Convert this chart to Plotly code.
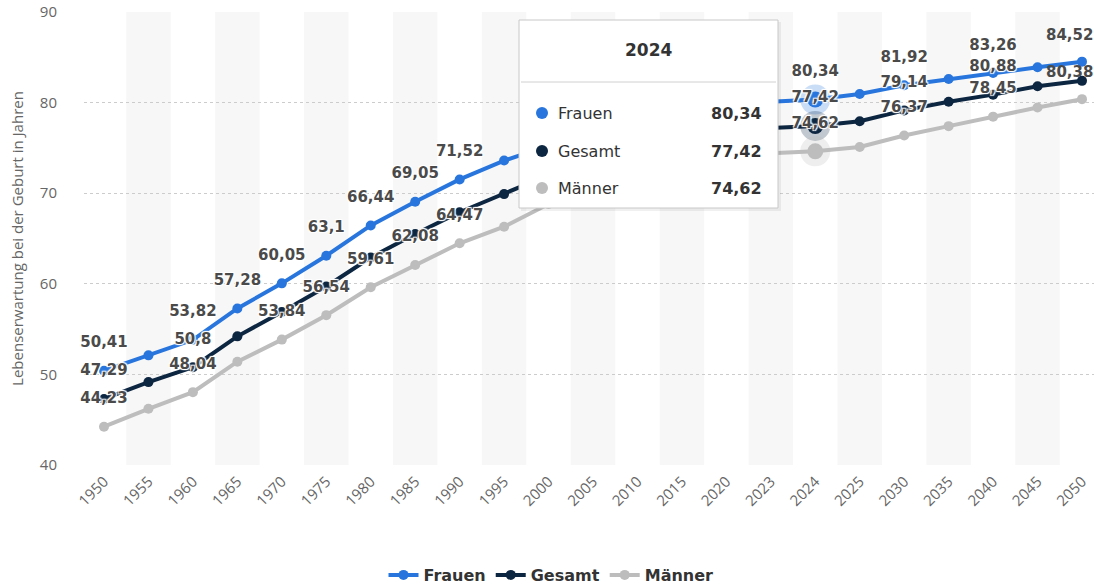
import plotly.graph_objects as go

years = ["1950", "1955", "1960", "1965", "1970", "1975", "1980", "1985", "1990", "1995",
         "2000", "2005", "2010", "2015", "2020", "2023", "2024", "2025", "2030", "2035",
         "2040", "2045", "2050"]

frauen = [50.41, 52.1, 53.82, 57.28, 60.05, 63.1, 66.44, 69.05, 71.52, 73.6,
          75.3, 76.9, 78.0, 79.0, 78.8, 80.1, 80.34, 80.95, 81.92, 82.6,
          83.26, 83.9, 84.52]
gesamt = [47.29, 49.15, 50.8, 54.2, 56.9, 59.7, 62.9, 65.5, 67.9, 69.9,
          72.0, 73.6, 74.9, 76.0, 75.7, 77.2, 77.42, 77.95, 79.14, 80.1,
          80.88, 81.8, 82.4]
maenner = [44.23, 46.2, 48.04, 51.4, 53.84, 56.54, 59.61, 62.08, 64.47, 66.3,
           68.8, 70.3, 71.8, 73.0, 72.6, 74.4, 74.62, 75.1, 76.37, 77.4,
           78.45, 79.45, 80.38]

# indices of points that show a data label
frauen_lbl = [0, 2, 3, 4, 5, 6, 7, 8, 16, 18, 20, 22]
gesamt_lbl = [0, 2, 16, 18, 20]
maenner_lbl = [0, 2, 4, 5, 6, 7, 8, 16, 18, 20, 22]

series = [
    ("Frauen", frauen, frauen_lbl, "#2876dd"),
    ("Gesamt", gesamt, gesamt_lbl, "#0c2540"),
    ("Männer", maenner, maenner_lbl, "#bdbdbd"),
]

hover_year = "2024"
hi = years.index(hover_year)
last = len(years) - 1

def fmt(v):
    return str(v).replace(".", ",")

fig = go.Figure()

for name, vals, lbl, col in series:
    fig.add_trace(go.Scatter(
        x=years, y=vals, name=name, mode="lines+markers",
        line=dict(color=col, width=4),
        marker=dict(size=10, color=col),
        hoverinfo="skip"))

# hover state halos and enlarged markers
for name, vals, lbl, col in series:
    fig.add_trace(go.Scatter(
        x=[years[hi]], y=[vals[hi]], mode="markers",
        marker=dict(size=30, color=col, opacity=0.25),
        showlegend=False, hoverinfo="skip"))
for name, vals, lbl, col in series:
    fig.add_trace(go.Scatter(
        x=[years[hi]], y=[vals[hi]], mode="markers",
        marker=dict(size=16, color=col),
        showlegend=False, hoverinfo="skip"))

shadow = "1px 1px 1px #fff, -1px -1px 1px #fff, 1px -1px 1px #fff, -1px 1px 1px #fff"
annotations = []
for name, vals, lbl, col in series:
    inner = [i for i in lbl if i != last]
    fig.add_trace(go.Scatter(
        x=[years[i] for i in inner], y=[vals[i] for i in inner],
        text=[fmt(vals[i]) for i in inner],
        mode="markers+text", textposition="top center",
        marker=dict(size=30, opacity=0),
        textfont=dict(family="DejaVu Sans", size=15, color="#4a4a4a",
                      weight="bold", shadow=shadow),
        showlegend=False, hoverinfo="skip", cliponaxis=False))
    if last in lbl:
        # edge label pushed inward like the original (x given as category index)
        annotations.append(dict(xref="x", yref="y", x=last, y=vals[last],
                                text="<b>" + fmt(vals[last]) + "</b>", showarrow=False,
                                xanchor="center", yanchor="middle", xshift=-13, yshift=27,
                                font=dict(family="DejaVu Sans", size=15, color="#4a4a4a")))

shapes = []
for i in range(1, len(years), 2):
    shapes.append(dict(type="rect", xref="x", yref="paper", x0=i - 0.5, x1=i + 0.5,
                       y0=0, y1=1, fillcolor="#f7f7f7", line=dict(width=0), layer="below"))

# tooltip box (pixel -> paper)
L, T, W, H = 84, 12, 1010, 453
def px(x):
    return (x - L) / W
def py(y):
    return (T + H - y) / H

shapes.append(dict(type="rect", xref="paper", yref="paper",
                   x0=px(521), x1=px(781), y0=py(211), y1=py(22),
                   fillcolor="rgba(0,0,0,0.06)", line=dict(width=0), layer="above"))
shapes.append(dict(type="rect", xref="paper", yref="paper",
                   x0=px(519), x1=px(778), y0=py(208), y1=py(20),
                   fillcolor="white", line=dict(color="#c8c8c8", width=1), layer="above"))
shapes.append(dict(type="line", xref="paper", yref="paper",
                   x0=px(521), x1=px(776), y0=py(82), y1=py(82),
                   line=dict(color="#d0d0d0", width=1), layer="above"))

annotations.append(dict(xref="paper", yref="paper", x=px(648), y=py(50),
                        text="<b>" + hover_year + "</b>",
                        showarrow=False, font=dict(family="DejaVu Sans", size=17, color="#333333"),
                        xanchor="center", yanchor="middle"))
row_y = [113, 151, 188]
for (name, vals, lbl, col), ry in zip(series, row_y):
    r = 6
    shapes.append(dict(type="circle", xref="paper", yref="paper",
                       x0=px(542 - r), x1=px(542 + r), y0=py(ry + r), y1=py(ry - r),
                       fillcolor=col, line=dict(width=0), layer="above"))
    annotations.append(dict(xref="paper", yref="paper", x=px(556), y=py(ry), text=name,
                            showarrow=False, xanchor="left", yanchor="middle",
                            font=dict(family="DejaVu Sans", size=16, color="#333333")))
    annotations.append(dict(xref="paper", yref="paper", x=px(764), y=py(ry),
                            text="<b>" + fmt(vals[hi]) + "</b>",
                            showarrow=False, xanchor="right", yanchor="middle",
                            font=dict(family="DejaVu Sans", size=16, color="#333333")))

fig.update_layout(
    width=1094, height=584,
    margin=dict(l=84, r=0, t=12, b=119, autoexpand=False),
    plot_bgcolor="white", paper_bgcolor="white",
    font=dict(family="Open Sans", color="#666666"),
    shapes=shapes, annotations=annotations,
    showlegend=True,
    legend=dict(orientation="h", x=551 / 1094, xref="container", xanchor="center",
                y=1 - 575 / 584, yref="container", yanchor="middle",
                font=dict(family="DejaVu Sans", size=16, color="#333333", weight="bold"),
                itemwidth=30, traceorder="normal"),
)
fig.update_xaxes(type="category", categoryorder="array", categoryarray=years,
                 range=[-0.45, 22.27], tickangle=-45, automargin=False,
                 tickfont=dict(size=15, color="#666666"), showgrid=False,
                 showline=False, zeroline=False, ticks="", ticklabelstandoff=4)
fig.update_yaxes(range=[40, 90], dtick=10, tickfont=dict(size=15, color="#666666"),
                 gridcolor="#cccccc", griddash="dot", gridwidth=1, zeroline=False,
                 showline=False, ticks="", ticklabelstandoff=26, automargin=False,
                 title=dict(text="Lebenserwartung bei der Geburt in Jahren",
                            font=dict(size=15, color="#666666"), standoff=12))

fig.write_html("out.html", config={"displayModeBar": False},
               post_script="document.body.style.margin='0';document.body.style.overflow='hidden';")
